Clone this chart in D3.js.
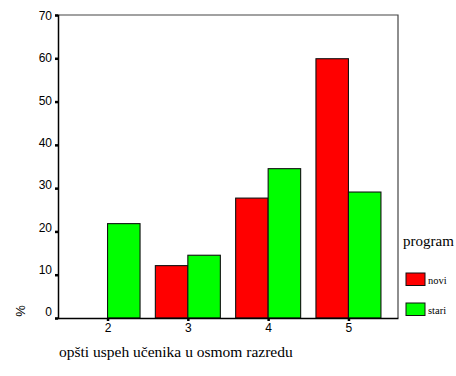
<!DOCTYPE html>
<html>
<head>
<meta charset="utf-8">
<script src="https://cdn.jsdelivr.net/npm/d3@7"></script>
<style>
  html, body { margin: 0; padding: 0; background: #fff; }
  svg { display: block; }
</style>
</head>
<body>
<svg id="chart" width="456" height="376"></svg>
<script>
// Grade categories and percentage of pupils per program
const categories = ["2", "3", "4", "5"];
const noviValues = [0, 12.1, 27.7, 59.9];
const stariValues = [21.8, 14.5, 34.5, 29.1];
const yTicks = [0, 10, 20, 30, 40, 50, 60, 70];
const seriesNames = ["novi", "stari"];
const seriesColors = ["#ff0000", "#00ff00"];

(function draw() {
  const svg = d3.select("#chart");
  const plotLeft = 58, plotRight = 398, plotTop = 15, plotBottom = 318;
  const sans = "'Liberation Sans', Arial, sans-serif";
  const serif = "'Liberation Serif', 'Times New Roman', serif";

  const x = d3.scalePoint().domain(categories).range([plotLeft, plotRight]).padding(0.617);
  const y = d3.scaleLinear().domain([0, 70]).range([plotBottom, plotTop]);
  // tick labels sit on a slightly tighter spacing than the ticks themselves
  const yLabel = d3.scaleLinear().domain([0, 70]).range([312, 15.5]);
  const barW = 32.5;

  // Plot frame: top and right edges
  svg.append("path")
    .attr("d", `M${plotLeft},${plotTop}H${plotRight}V${plotBottom}`)
    .attr("fill", "none").attr("stroke", "#444").attr("stroke-width", 1.2);

  // Bars
  const series = [noviValues, stariValues];
  series.forEach((vals, si) => {
    svg.append("g").selectAll("rect")
      .data(categories.map((c, i) => ({ c, v: vals[i] })).filter(d => d.v > 0))
      .join("rect")
      .attr("x", d => x(d.c) + (si === 0 ? -barW : 0))
      .attr("y", d => y(d.v))
      .attr("width", barW)
      .attr("height", d => plotBottom - y(d.v))
      .attr("fill", seriesColors[si])
      .attr("stroke", "#111")
      .attr("stroke-width", 1.1);
  });

  // Y axis
  const yAxis = svg.append("g")
    .attr("transform", `translate(${plotLeft},0)`)
    .call(d3.axisLeft(y).tickValues(yTicks).tickSize(3).tickPadding(3).tickFormat(d3.format("d")));
  yAxis.select(".domain").attr("stroke", "#000").attr("stroke-width", 1.5);
  yAxis.selectAll(".tick line").attr("stroke", "#000").attr("stroke-width", 2.5);
  yAxis.selectAll(".tick text")
    .attr("y", d => yLabel(d) - y(d))
    .attr("font-family", sans).attr("font-size", 12).attr("fill", "#000");

  // X axis
  const xAxis = svg.append("g")
    .attr("transform", `translate(0,${plotBottom})`)
    .call(d3.axisBottom(x).tickSize(3).tickPadding(2).tickSizeOuter(0));
  xAxis.select(".domain").attr("stroke", "#000").attr("stroke-width", 1.5);
  xAxis.selectAll(".tick line").attr("stroke", "#000").attr("stroke-width", 2.5);
  xAxis.selectAll("text").attr("font-family", sans).attr("font-size", 12).attr("fill", "#000");

  // Y axis title
  svg.append("text")
    .attr("transform", "translate(24.5,311) rotate(-90)")
    .attr("text-anchor", "middle")
    .attr("font-family", sans)
    .attr("font-size", 13)
    .text("%");

  // X axis title
  svg.append("text")
    .attr("x", 59).attr("y", 357)
    .attr("font-family", serif)
    .attr("font-size", 15.5)
    .text("opšti uspeh učenika u osmom razredu");

  // Legend
  svg.append("text")
    .attr("x", 403).attr("y", 246)
    .attr("font-family", serif)
    .attr("font-size", 15)
    .text("program");

  const legend = svg.append("g").selectAll("g")
    .data(seriesNames)
    .join("g")
    .attr("transform", (d, i) => `translate(406,${273 + i * 30})`);
  legend.append("rect")
    .attr("width", 19).attr("height", 12.5)
    .attr("fill", (d, i) => seriesColors[i])
    .attr("stroke", "#111").attr("stroke-width", 1);
  legend.append("text")
    .attr("x", 22).attr("y", 10.5)
    .attr("font-family", serif)
    .attr("font-size", 10.5)
    .text(d => d);
})();
</script>
</body>
</html>
